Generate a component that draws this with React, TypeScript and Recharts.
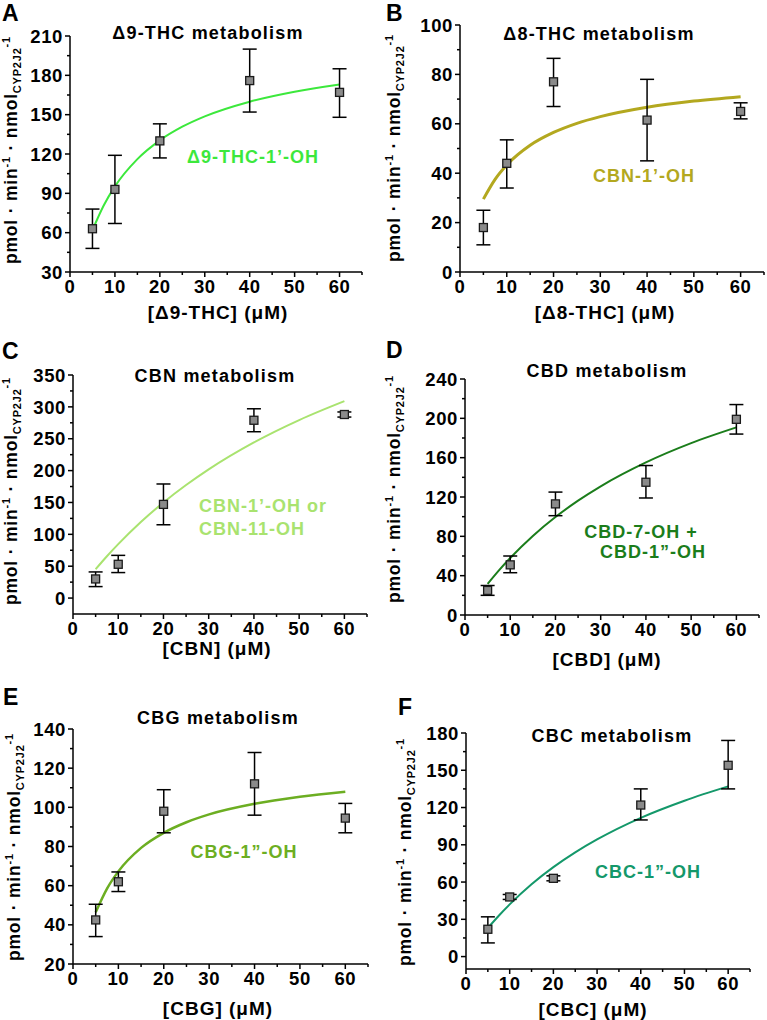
import React from 'react';
import { ComposedChart, Line, Scatter, XAxis, YAxis, ErrorBar } from 'recharts';

// substrate concentrations (µM)
const conc = [5, 10, 20, 40, 60];
const fitConc = [5, 7.5, 10, 15, 20, 25, 30, 40, 50, 60];
const xMajor = [0, 10, 20, 30, 40, 50, 60];

// A - Δ9-THC
const thc9Mean = [63, 93, 130, 176, 167];
const thc9Low = [48, 67, 117, 152, 148];
const thc9High = [78, 119, 143, 200, 185];
const thc9Fit = [61.9, 80.7, 95.3, 116.1, 130.4, 140.8, 148.7, 159.9, 167.5, 173.0];
const thc9Ticks = [30, 60, 90, 120, 150, 180, 210];

// B - Δ8-THC
const thc8Mean = [18, 44, 77, 61.5, 65];
const thc8Low = [11, 34, 67, 45, 62];
const thc8High = [25, 53.5, 86.5, 78, 68.5];
const thc8Fit = [29.5, 37.5, 43.3, 51.3, 56.5, 60.2, 62.9, 66.7, 69.2, 71.0];
const thc8Ticks = [0, 20, 40, 60, 80, 100];

// C - CBN
const cbnMean = [30, 53, 147, 279, 288];
const cbnLow = [18, 40, 115, 261, 284];
const cbnHigh = [41, 67, 179, 297, 292];
const cbnFit = [45.2, 65.6, 84.6, 119.3, 150.0, 177.3, 201.9, 244.2, 279.3, 309.0];
const cbnTicks = [0, 50, 100, 150, 200, 250, 300, 350];

// D - CBD
const cbdMean = [25, 51, 113, 135, 199];
const cbdLow = [20, 43, 101, 119, 184];
const cbdHigh = [30, 60, 125, 152, 214];
const cbdFit = [31.6, 45.4, 58.0, 80.4, 99.6, 116.3, 130.9, 155.2, 174.8, 190.8];
const cbdTicks = [0, 40, 80, 120, 160, 200, 240];

// E - CBG
const cbgMean = [42.5, 62, 98, 112, 94.5];
const cbgLow = [34, 57, 87, 96, 87];
const cbgHigh = [50.5, 67, 109, 128, 102];
const cbgFit = [46.4, 58.5, 67.3, 79.3, 87.0, 92.4, 96.4, 101.8, 105.4, 108.0];
const cbgTicks = [20, 40, 60, 80, 100, 120, 140];

// F - CBC
const cbcMean = [22, 48, 63, 122, 154];
const cbcLow = [11, 46, 61, 110, 135];
const cbcHigh = [32, 50, 65, 135, 174];
const cbcFit = [23.0, 32.9, 42.0, 58.2, 72.0, 83.9, 94.3, 111.7, 125.5, 137.0];
const cbcTicks = [0, 30, 60, 90, 120, 150, 180];

const FONT = '"Liberation Sans", Arial, sans-serif';

const withMinor = (majors: number[], extraEnd?: number) => {
  const out: number[] = [];
  for (let i = 0; i < majors.length; i++) {
    out.push(majors[i]);
    if (i < majors.length - 1) out.push((majors[i] + majors[i + 1]) / 2);
  }
  if (extraEnd !== undefined) out.push(extraEnd);
  return out;
};

const points = (mean: number[], low: number[], high: number[]) =>
  conc.map((x, i) => ({ x, y: mean[i], err: [mean[i] - low[i], high[i] - mean[i]] }));

const curve = (fit: number[]) => fitConc.map((x, i) => ({ x, y: fit[i] }));

const makeXTick = (majors: number[]) => (props: any) => {
  const { x, y, payload } = props;
  const major = majors.includes(payload.value);
  return (
    <g>
      <line x1={x} y1={y} x2={x} y2={y + (major ? 5 : 3)} stroke="#000" strokeWidth={1.5} />
      {major && (
        <text x={x} y={y + 8} dy="0.71em" textAnchor="middle" fontFamily={FONT} fontWeight="bold" fontSize={18.5} letterSpacing={0.6} fill="#000">
          {payload.value}
        </text>
      )}
    </g>
  );
};

const makeYTick = (majors: number[]) => (props: any) => {
  const { x, y, payload } = props;
  const major = majors.includes(payload.value);
  return (
    <g>
      <line x1={x} y1={y} x2={x - (major ? 5 : 3)} y2={y} stroke="#000" strokeWidth={1.5} />
      {major && (
        <text x={x - 7} y={y} dy="0.36em" textAnchor="end" fontFamily={FONT} fontWeight="bold" fontSize={18.5} letterSpacing={0.6} fill="#000">
          {payload.value}
        </text>
      )}
    </g>
  );
};

const square = (p: any) => (
  <rect x={p.cx - 4} y={p.cy - 4} width={8} height={8} fill="#8a8a8a" stroke="#1a1a1a" strokeWidth={1.3} />
);

const panels = [
  { id: 'A', left: 0, top: 0, w: 383, h: 330, margin: { top: 36, right: 21, bottom: 58, left: 70 }, yDomain: [30, 210], yTicks: thc9Ticks, mean: thc9Mean, low: thc9Low, high: thc9High, fit: thc9Fit, color: '#3ce83c', lw: 2 },
  { id: 'B', left: 383, top: 0, w: 384, h: 330, margin: { top: 25, right: 3, bottom: 58, left: 77 }, yDomain: [0, 100], yTicks: thc8Ticks, mean: thc8Mean, low: thc8Low, high: thc8High, fit: thc8Fit, color: '#b3a81f', lw: 3 },
  { id: 'C', left: 0, top: 330, w: 383, h: 340, margin: { top: 45, right: 16, bottom: 56, left: 73 }, yDomain: [-25, 350], yTicks: cbnTicks, mean: cbnMean, low: cbnLow, high: cbnHigh, fit: cbnFit, color: '#a9e36f', lw: 2 },
  { id: 'D', left: 383, top: 330, w: 384, h: 340, margin: { top: 49, right: 8, bottom: 55, left: 82 }, yDomain: [0, 240], yTicks: cbdTicks, mean: cbdMean, low: cbdLow, high: cbdHigh, fit: cbdFit, color: '#1b7d1b', lw: 2 },
  { id: 'E', left: 0, top: 670, w: 383, h: 350, margin: { top: 59, right: 15, bottom: 56, left: 73 }, yDomain: [20, 140], yTicks: cbgTicks, mean: cbgMean, low: cbgLow, high: cbgHigh, fit: cbgFit, color: '#6cae22', lw: 2.5 },
  { id: 'F', left: 383, top: 670, w: 384, h: 350, margin: { top: 63, right: 17, bottom: 51, left: 83 }, yDomain: [-10, 180], yTicks: cbcTicks, mean: cbcMean, low: cbcLow, high: cbcHigh, fit: cbcFit, color: '#14986a', lw: 2 },
];

const labelStyle = { fontFamily: FONT, fontWeight: 'bold' as const };

function YTitle({ x, y }: { x: number; y: number }) {
  return (
    <text transform={`translate(${x},${y}) rotate(-90)`} textAnchor="middle" fontSize={17.5} letterSpacing={0.8} fill="#000" style={labelStyle}>
      pmol · min
      <tspan dy={-7} fontSize={11}>-1</tspan>
      <tspan dy={7}> · nmol</tspan>
      <tspan dy={4} fontSize={11}>CYP2J2</tspan>
      <tspan dy={-11} fontSize={11}>-1</tspan>
    </text>
  );
}

export default function App() {
  return (
    <div style={{ position: 'absolute', left: 0, top: 0, width: 767, height: 1020, background: '#fff' }}>
      {panels.map((p) => {
        const yAll = withMinor(p.yTicks);
        const m = { ...p.margin, left: p.margin.left - 1, bottom: p.margin.bottom - 1 };
        return (
          <div key={p.id} style={{ position: 'absolute', left: p.left, top: p.top }}>
            <ComposedChart width={p.w} height={p.h} margin={m} style={{ overflow: 'visible' }}>
              <XAxis
                dataKey="x"
                type="number"
                domain={[0, 65]}
                ticks={withMinor(xMajor, 65)}
                interval={0}
                tickSize={0}
                tickMargin={0}
                tickLine={false}
                tick={makeXTick(xMajor)}
                height={1}
                axisLine={{ stroke: '#000', strokeWidth: 1.5 }}
                allowDataOverflow
              />
              <YAxis
                type="number"
                domain={p.yDomain}
                ticks={yAll}
                interval={0}
                tickSize={0}
                tickMargin={0}
                tickLine={false}
                tick={makeYTick(p.yTicks)}
                width={1}
                axisLine={{ stroke: '#000', strokeWidth: 1.5 }}
                allowDataOverflow
              />
              <Line data={curve(p.fit)} dataKey="y" type="monotone" stroke={p.color} strokeWidth={p.lw} dot={false} isAnimationActive={false} />
              <Scatter data={points(p.mean, p.low, p.high)} dataKey="y" shape={square} isAnimationActive={false}>
                <ErrorBar dataKey="err" direction="y" width={7} stroke="#000" strokeWidth={1.5} isAnimationActive={false} />
              </Scatter>
            </ComposedChart>
          </div>
        );
      })}
      <svg width={767} height={1020} style={{ position: 'absolute', left: 0, top: 0, pointerEvents: 'none' }}>
        <g fontSize={23} fill="#000" style={labelStyle}>
          <text x={2} y={21}>A</text>
          <text x={386} y={21}>B</text>
          <text x={2} y={359}>C</text>
          <text x={386} y={358}>D</text>
          <text x={3} y={705}>E</text>
          <text x={398} y={715}>F</text>
        </g>
        <g fontSize={18} letterSpacing={1.2} textAnchor="middle" fill="#000" style={labelStyle}>
          <text x={208} y={39}>Δ9-THC metabolism</text>
          <text x={599} y={40}>Δ8-THC metabolism</text>
          <text x={215} y={382}>CBN metabolism</text>
          <text x={607} y={377}>CBD metabolism</text>
          <text x={218} y={724}>CBG metabolism</text>
          <text x={612} y={742}>CBC metabolism</text>
        </g>
        <g fontSize={18} letterSpacing={1} style={labelStyle}>
          <text x={253} y={163} textAnchor="middle" fill="#3ce83c">Δ9-THC-1’-OH</text>
          <text x={644} y={182} textAnchor="middle" fill="#b3a81f">CBN-1’-OH</text>
          <text x={199} y={512} fill="#a9e36f">CBN-1’-OH or</text>
          <text x={199} y={535} fill="#a9e36f">CBN-11-OH</text>
          <text x={641} y={538} textAnchor="middle" fill="#1b7d1b">CBD-7-OH +</text>
          <text x={653} y={558} textAnchor="middle" fill="#1b7d1b">CBD-1”-OH</text>
          <text x={244} y={858} textAnchor="middle" fill="#6cae22">CBG-1”-OH</text>
          <text x={648} y={878} textAnchor="middle" fill="#14986a">CBC-1”-OH</text>
        </g>
        <g fontSize={19} letterSpacing={1} textAnchor="middle" fill="#000" style={labelStyle}>
          <text x={218} y={319}>[Δ9-THC] (μM)</text>
          <text x={605} y={319}>[Δ8-THC] (μM)</text>
          <text x={217} y={655}>[CBN] (μM)</text>
          <text x={607} y={666}>[CBD] (μM)</text>
          <text x={218} y={1015}>[CBG] (μM)</text>
          <text x={593} y={1016}>[CBC] (μM)</text>
        </g>
        <YTitle x={17} y={150} />
        <YTitle x={400} y={148} />
        <YTitle x={17} y={491} />
        <YTitle x={400} y={489} />
        <YTitle x={20} y={847} />
        <YTitle x={411} y={852} />
      </svg>
    </div>
  );
}
